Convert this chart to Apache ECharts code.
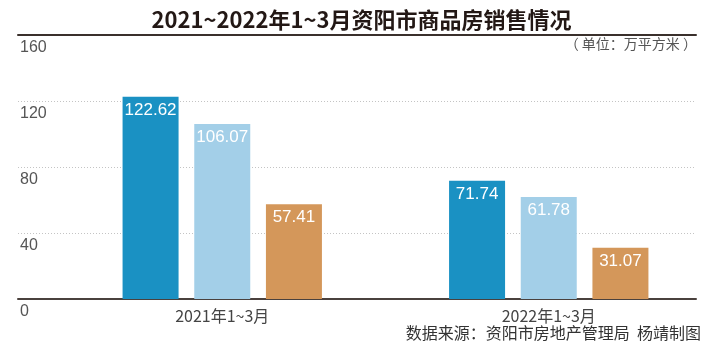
<!DOCTYPE html>
<html>
<head>
<meta charset="utf-8">
<script src="https://cdn.jsdelivr.net/npm/echarts@6/dist/echarts.min.js"></script>
<style>
html,body{margin:0;padding:0;background:#fff;}
#c{width:723px;height:363px;}
</style>
</head>
<body>
<div id="c"></div>
<script>
const categories = ['2021年1~3月', '2022年1~3月'];
const seriesNames = ['系列一', '系列二', '系列三'];
const seriesA = [122.62, 71.74];
const seriesB = [106.07, 61.78];
const seriesC = [57.41, 31.07];
const yTicks = [0, 40, 80, 120, 160];

const FONT = '"Liberation Sans", "Noto Sans CJK SC", sans-serif';
const colors = ['#1a91c3', '#a3cfe8', '#d4975a'];
const chart = echarts.init(document.getElementById('c'));

function barSeries(name, data, color) {
  return {
    name: name,
    type: 'bar',
    xAxisIndex: 2,
    yAxisIndex: 1,
    data: data,
    barWidth: 56,
    barGap: '28%',
    itemStyle: { color: color },
    label: {
      show: true,
      position: 'insideTop',
      distance: 5,
      color: '#fff',
      fontSize: 17,
      fontFamily: FONT
    }
  };
}

chart.setOption({
  animation: false,
  title: {
    text: '2021~2022年1~3月资阳市商品房销售情况',
    left: 'center',
    top: 4,
    textStyle: { fontSize: 22, fontWeight: 'bold', color: '#231815', fontFamily: '"Noto Sans CJK SC", sans-serif' }
  },
  grid: [
    { left: 18, right: 27, top: 35, bottom: 64 },
    { left: 59, right: 11, top: 35, bottom: 64 }
  ],
  xAxis: [
    { type: 'value', gridIndex: 0, position: 'bottom', min: 0, max: 1,
      axisLine: { show: true, lineStyle: { color: '#4a413d', width: 2 } },
      axisTick: { show: false }, axisLabel: { show: false }, splitLine: { show: false } },
    { type: 'value', gridIndex: 0, position: 'top', min: 0, max: 1,
      axisLine: { show: true, lineStyle: { color: '#3a302c', width: 2 } },
      axisTick: { show: false }, axisLabel: { show: false }, splitLine: { show: false } },
    { type: 'category', gridIndex: 1, data: categories,
      axisLine: { show: false }, axisTick: { show: false },
      axisLabel: { color: '#444', fontSize: 16, margin: 9, fontFamily: '"Noto Sans CJK SC", sans-serif' } }
  ],
  yAxis: [
    { type: 'value', gridIndex: 0, min: yTicks[0], max: yTicks[yTicks.length - 1], interval: 40,
      axisLine: { show: false }, axisTick: { show: false },
      axisLabel: { inside: true, margin: 2, align: 'left', verticalAlign: 'top', padding: [5, 0, 0, 0],
        color: '#555', fontSize: 16, fontFamily: FONT },
      splitLine: { show: true, lineStyle: { color: '#c4c4c4', type: [1, 2], width: 1 } } },
    { type: 'value', gridIndex: 1, min: yTicks[0], max: yTicks[yTicks.length - 1], interval: 40, show: false }
  ],
  graphic: [
    { type: 'text', right: 26, top: 37,
      style: { text: '（ 单位：万平方米 ）', fontSize: 14, fill: '#555', fontFamily: '"Noto Sans CJK SC", sans-serif' } },
    { type: 'text', right: 22, top: 325,
      style: { text: '数据来源：资阳市房地产管理局  杨靖制图', fontSize: 16, fill: '#333', fontFamily: '"Noto Sans CJK SC", sans-serif' } }
  ],
  series: [
    barSeries(seriesNames[0], seriesA, colors[0]),
    barSeries(seriesNames[1], seriesB, colors[1]),
    barSeries(seriesNames[2], seriesC, colors[2])
  ]
});
</script>
</body>
</html>
